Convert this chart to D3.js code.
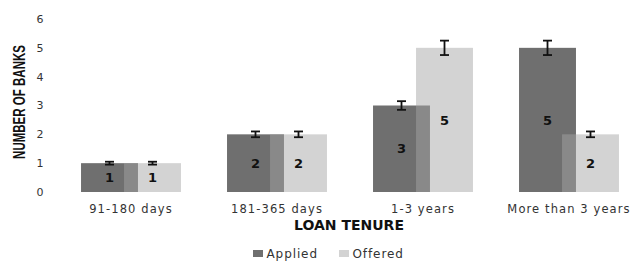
<!DOCTYPE html>
<html><head><meta charset="utf-8">
<script src="https://cdn.jsdelivr.net/npm/d3@7"></script>
<style>
body{margin:0;background:#fff;}
svg{display:block;}
</style></head>
<body><svg id="c" width="633" height="262"></svg>
<script>
const categories = ["91-180 days", "181-365 days", "1-3 years", "More than 3 years"];
const seriesNames = ["Applied", "Offered"];
const applied = [1, 2, 3, 5];
const offered = [1, 2, 5, 2];
const appliedErr = [0.05, 0.1, 0.15, 0.25];
const offeredErr = [0.05, 0.1, 0.25, 0.1];
const yTicks = [0, 1, 2, 3, 4, 5, 6];

const svg = d3.select("#c");
const x = d3.scaleBand().domain(categories).range([58, 642]).paddingInner(0);
const y = d3.scaleLinear().domain([0, 6]).range([192, 19]);
const sub = d3.scalePoint().domain(seriesNames).range([-21.5, 21.5]);
const barW = x.bandwidth() * 0.39;
const colors = {Applied: "#6f6f6f", Offered: "#a5a5a5"};
const opac = {Applied: 1, Offered: 0.49};

const rows = [];
seriesNames.forEach((s, si) => {
  const vals = si === 0 ? applied : offered;
  const errs = si === 0 ? appliedErr : offeredErr;
  categories.forEach((c, i) => rows.push({s, c, v: vals[i], e: errs[i]}));
});

const cx = d => x(d.c) + x.bandwidth() / 2 + sub(d.s);

svg.append("g").selectAll("rect").data(rows).join("rect")
  .attr("x", d => cx(d) - barW / 2)
  .attr("width", barW)
  .attr("y", d => y(d.v))
  .attr("height", d => y(0) - y(d.v))
  .attr("fill", d => colors[d.s])
  .attr("fill-opacity", d => opac[d.s]);

// error bars
const eg = svg.append("g").attr("stroke", "#111").attr("stroke-width", 1.8);
rows.forEach(d => {
  const X = cx(d);
  eg.append("line").attr("x1", X).attr("x2", X).attr("y1", y(d.v + d.e)).attr("y2", y(d.v - d.e));
  eg.append("line").attr("x1", X - 4.5).attr("x2", X + 4.5).attr("y1", y(d.v + d.e)).attr("y2", y(d.v + d.e));
  eg.append("line").attr("x1", X - 4.5).attr("x2", X + 4.5).attr("y1", y(d.v - d.e)).attr("y2", y(d.v - d.e));
});

// value labels
svg.append("g").selectAll("text").data(rows).join("text")
  .attr("x", d => cx(d))
  .attr("y", d => (y(d.v) + y(0)) / 2)
  .attr("dy", "0.36em")
  .attr("text-anchor", "middle")
  .attr("font-family", "DejaVu Sans, sans-serif")
  .attr("font-weight", "bold")
  .attr("font-size", 13)
  .attr("fill", "#111")
  .text(d => d.v);

// y axis labels
svg.append("g").selectAll("text").data(yTicks).join("text")
  .attr("x", 40).attr("y", d => y(d)).attr("dy", "0.36em")
  .attr("text-anchor", "middle")
  .attr("font-family", "DejaVu Sans, sans-serif")
  .attr("font-size", 11).attr("fill", "#333")
  .text(d => d);

// x axis labels
svg.append("g").selectAll("text").data(categories).join("text")
  .attr("x", d => x(d) + x.bandwidth() / 2).attr("y", 213)
  .attr("text-anchor", "middle")
  .attr("font-family", "DejaVu Sans, sans-serif")
  .attr("font-size", 11.5).attr("letter-spacing", 1.1).attr("fill", "#333")
  .text(d => d);

// axis titles
svg.append("text").attr("x", 349).attr("y", 229.5)
  .attr("text-anchor", "middle")
  .attr("font-family", "DejaVu Sans, sans-serif").attr("font-weight", "bold")
  .attr("font-size", 14).attr("fill", "#111")
  .text("LOAN TENURE");

svg.append("text").attr("transform", "translate(25,102) rotate(-90) scale(0.72,1)")
  .attr("text-anchor", "middle")
  .attr("font-family", "Liberation Sans, Arial, sans-serif").attr("font-weight", "bold")
  .attr("font-size", 16).attr("fill", "#111")
  .text("NUMBER OF BANKS");

// legend
const legendColors = ["#6f6f6f", "#d3d3d3"];
const lx = [253, 339];
const lg = svg.append("g");
seriesNames.forEach((s, i) => {
  lg.append("rect").attr("x", lx[i]).attr("y", 250).attr("width", 10).attr("height", 7).attr("fill", legendColors[i]);
  lg.append("text").attr("x", lx[i] + 13.5).attr("y", 258)
    .attr("font-family", "DejaVu Sans, sans-serif").attr("font-size", 12)
    .attr("letter-spacing", 0.9).attr("fill", "#333").text(s);
});
</script></body></html>
